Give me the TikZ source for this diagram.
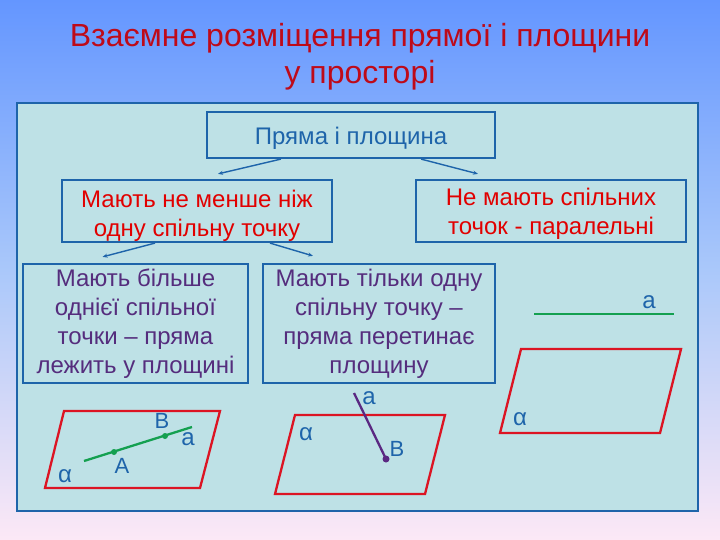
\documentclass[tikz,border=0pt]{standalone}
\usepackage{fontspec}
\setmainfont{Liberation Sans}
\usetikzlibrary{calc,arrows.meta}
\definecolor{bgtop}{RGB}{100,150,255}
\definecolor{bgmid}{RGB}{170,200,250}
\definecolor{bgbot}{RGB}{252,232,246}
\definecolor{panel}{RGB}{190,225,230}
\definecolor{boxline}{RGB}{30,100,170}
\definecolor{titlered}{RGB}{190,10,25}
\definecolor{textred}{RGB}{225,0,0}
\definecolor{textpurple}{RGB}{85,45,125}
\definecolor{labelblue}{RGB}{30,100,170}
\definecolor{planered}{RGB}{220,20,35}
\definecolor{linegreen}{RGB}{20,160,80}
\definecolor{linepurple}{RGB}{90,40,130}
\tikzset{
  boxnode/.style={draw=boxline,line width=2.2pt,fill=panel,inner sep=0pt},
  boxtext/.style={align=center,inner sep=0pt},
  arr/.style={draw=boxline,line width=1.4pt,-{Stealth[length=5pt,width=4pt]}},
  plane/.style={draw=planered,line width=2.3pt,line join=miter},
  lbl/.style={text=labelblue,font=\fontsize{22}{24}\selectfont,inner sep=0pt},
  lblsmall/.style={text=labelblue,font=\fontsize{24}{26}\selectfont,inner sep=0pt},
  dot/.style={circle,inner sep=0pt,minimum size=6pt}
}
\begin{document}
\begin{tikzpicture}[x=1pt,y=-1pt]
\useasboundingbox (0,0) rectangle (720,540);
\shade[top color=bgtop,bottom color=bgbot,middle color=bgmid] (0,0) rectangle (720,540);
% title
\node[text=titlered,align=center,font=\fontsize{32}{37}\selectfont] (title) at (360,57)
  {Взаємне розміщення прямої і площини\\у просторі};
% panel
\draw[draw=boxline,line width=2.2pt,fill=panel] (17,103) rectangle (698,511);
% boxes
\node[boxnode,minimum width=288pt,minimum height=46pt] (b1) at (351,135) {};
\node[boxnode,minimum width=270pt,minimum height=62pt] (b2) at (197,211) {};
\node[boxnode,minimum width=270pt,minimum height=62pt] (b3) at (551,211) {};
\node[boxnode,minimum width=225pt,minimum height=119pt] (b4) at (135.5,323.5) {};
\node[boxnode,minimum width=232pt,minimum height=119pt] (b5) at (379,323.5) {};
% box texts
\node[boxtext,text=labelblue,font=\fontsize{24}{28}\selectfont] (t1) at ($(b1.center)+(0,3)$) {Пряма і площина};
\node[boxtext,text=textred,font=\fontsize{24}{29}\selectfont] (t2) at ($(b2.center)+(0,5)$) {Мають не менше ніж\\одну спільну точку};
\node[boxtext,text=textred,font=\fontsize{24}{28.5}\selectfont] (t3) at ($(b3.center)+(0,3)$) {Не мають спільних\\точок - паралельні};
\node[boxtext,text=textpurple,font=\fontsize{24}{29}\selectfont] (t4) at ($(b4.center)+(0,0)$) {Мають більше\\однієї спільної\\точки – пряма\\лежить у площині};
\node[boxtext,text=textpurple,font=\fontsize{24}{29}\selectfont] (t5) at ($(b5.center)+(0,0)$) {Мають тільки одну\\спільну точку –\\пряма перетинає\\площину};
% arrows
\draw[arr] ($(b1.south west)+(75,0)$) -- ($(b2.north)+(21,-5)$);
\draw[arr] ($(b1.south east)+(-75,0)$) -- ($(b3.north)+(-73,-5)$);
\draw[arr] ($(b2.south)+(-42,0)$) -- ($(b4.north)+(-33,-6)$);
\draw[arr] ($(b2.south)+(73,0)$) -- ($(b5.north)+(-66,-7)$);
% plane 1: line lies in plane
\coordinate (p1a) at (64,411); \coordinate (p1b) at (220,411);
\coordinate (p1c) at (200,488); \coordinate (p1d) at (45,488);
\draw[plane] (p1a) -- (p1b) -- (p1c) -- (p1d) -- cycle;
\coordinate (l1s) at (84,461); \coordinate (l1e) at (192,427);
\draw[draw=linegreen,line width=2.3pt] (l1s) -- (l1e);
\node[dot,fill=linegreen] (ptA) at (114,452) {};
\node[dot,fill=linegreen] (ptB) at (165,436) {};
\node[lbl] (lA) at (122,466) {A};
\node[lbl] (lB) at (162,421) {B};
\node[lblsmall] (la1) at (188,439) {a};
\node[lblsmall] (lal1) at (65,476) {α};
% plane 2: line intersects plane
\coordinate (p2a) at (295,415); \coordinate (p2b) at (445,415);
\coordinate (p2c) at (425,494); \coordinate (p2d) at (275,494);
\draw[plane] (p2a) -- (p2b) -- (p2c) -- (p2d) -- cycle;
\coordinate (l2s) at (354,393);
\node[dot,fill=linepurple,minimum size=7pt] (ptB2) at (386,459) {};
\draw[draw=linepurple,line width=2.3pt] (l2s) -- (ptB2.center);
\node[lblsmall] (la2) at (369,398) {a};
\node[lbl] (lB2) at (397,449) {B};
\node[lblsmall] (lal2) at (306,434) {α};
% plane 3: parallel
\coordinate (p3a) at (521,349); \coordinate (p3b) at (681,349);
\coordinate (p3c) at (660,433); \coordinate (p3d) at (500,433);
\draw[plane] (p3a) -- (p3b) -- (p3c) -- (p3d) -- cycle;
\coordinate (l3s) at (534,314); \coordinate (l3e) at (674,314);
\draw[draw=linegreen,line width=2pt] (l3s) -- (l3e);
\node[lblsmall] (la3) at (649,302) {a};
\node[lblsmall] (lal3) at (520,419) {α};
\end{tikzpicture}
\end{document}
